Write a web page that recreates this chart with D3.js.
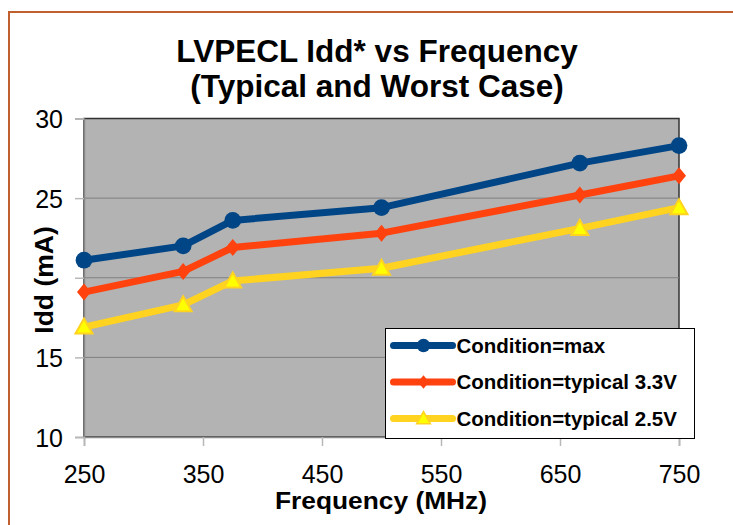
<!DOCTYPE html>
<html>
<head>
<meta charset="utf-8">
<script src="https://cdn.jsdelivr.net/npm/d3@7"></script>
<style>
    body { margin: 0; background: #fff; }
    text { font-family: "Liberation Sans", Arial, sans-serif; }
</style>
</head>
<body>
<div id="chart"></div>
<script>
const frequencies = [250, 333.33, 375, 500, 666.67, 750]
const iddMax = [21.1, 22.0, 23.6, 24.4, 27.2, 28.3]
const iddTyp33 = [19.1, 20.4, 21.9, 22.8, 25.2, 26.4]
const iddTyp25 = [16.9, 18.3, 19.8, 20.6, 23.1, 24.4]
const seriesNames = ['Condition=max', 'Condition=typical 3.3V', 'Condition=typical 2.5V']
const xTicks = [250, 350, 450, 550, 650, 750]
const yTicks = [10, 15, 20, 25, 30]

const WIDTH = 733
const HEIGHT = 525
const PLOT = { LEFT: 84, RIGHT: 679, TOP: 118.5, BOTTOM: 437 }

const series = [
    { name: seriesNames[0], values: iddMax, color: '#004586', marker: 'circle' },
    { name: seriesNames[1], values: iddTyp33, color: '#ff420e', marker: 'diamond' },
    { name: seriesNames[2], values: iddTyp25, color: '#ffd320', marker: 'triangle' },
]

const svg = d3.select('#chart').append('svg')
    .attr('width', WIDTH)
    .attr('height', HEIGHT)

svg.append('rect')
    .attr('width', WIDTH)
    .attr('height', HEIGHT)
    .attr('fill', '#fff')

// outer frame (cut off at right and bottom in the original)
svg.append('path')
    .attr('d', `M9,${HEIGHT + 5} V12 H${WIDTH + 5}`)
    .attr('fill', 'none')
    .attr('stroke', '#c0602e')
    .attr('stroke-width', 2)

const x = d3.scaleLinear().domain([250, 750]).range([PLOT.LEFT, PLOT.RIGHT])
const y = d3.scaleLinear().domain([10, 30]).range([PLOT.BOTTOM, PLOT.TOP])

// plot wall
svg.append('rect')
    .attr('x', PLOT.LEFT)
    .attr('y', PLOT.TOP)
    .attr('width', PLOT.RIGHT - PLOT.LEFT)
    .attr('height', PLOT.BOTTOM - PLOT.TOP)
    .attr('fill', '#b3b3b3')
    .attr('stroke', '#333')
    .attr('stroke-width', 1.5)

// horizontal grid
svg.append('g')
    .selectAll('line')
    .data(yTicks.slice(1, -1))
    .join('line')
    .attr('x1', PLOT.LEFT)
    .attr('x2', PLOT.RIGHT)
    .attr('y1', d => y(d))
    .attr('y2', d => y(d))
    .attr('stroke', '#7f7f7f')
    .attr('stroke-width', 1)

// axes
const yAxis = svg.append('g')
    .attr('transform', `translate(${PLOT.LEFT},0)`)
    .call(d3.axisLeft(y).tickValues(yTicks).tickSize(9).tickPadding(12))
yAxis.select('.domain').attr('stroke', '#8a8a8a').attr('stroke-width', 1.5)
yAxis.selectAll('.tick line').attr('stroke', '#b8b8b8').attr('stroke-width', 1.5)
yAxis.selectAll('.tick text')
    .attr('fill', '#000')
    .style('font-size', '25px')
    .attr('dy', '0.36em')

const xAxis = svg.append('g')
    .attr('transform', `translate(0,${PLOT.BOTTOM})`)
    .call(d3.axisBottom(x).tickValues(xTicks).tickSize(9).tickPadding(19))
xAxis.select('.domain').attr('stroke', '#8a8a8a').attr('stroke-width', 1.5)
xAxis.selectAll('.tick line').attr('stroke', '#b8b8b8').attr('stroke-width', 1.5)
xAxis.selectAll('.tick text')
    .attr('fill', '#000')
    .style('font-size', '25px')

// series lines
const line = d3.line()
    .x((d, i) => x(frequencies[i]))
    .y(d => y(d))

const symbolFor = (marker, size) => {
    if (marker === 'circle') return d3.symbol(d3.symbolCircle, size)()
    if (marker === 'diamond') return 'M0,-8.5 L7,0 L0,8.5 L-7,0 Z'
    return 'M0,-8.5 L8.5,6.5 L-8.5,6.5 Z'
}

series.forEach((s) => {
    svg.append('path')
        .datum(s.values)
        .attr('d', line)
        .attr('fill', 'none')
        .attr('stroke', s.color)
        .attr('stroke-width', 7)
        .attr('stroke-linejoin', 'round')
})

series.forEach((s) => {
    svg.append('g')
        .selectAll('path')
        .data(s.values)
        .join('path')
        .attr('transform', (d, i) => `translate(${x(frequencies[i])},${y(d)})`)
        .attr('d', symbolFor(s.marker, 220))
        .attr('fill', s.marker === 'triangle' ? '#ffff00' : s.color)
        .attr('stroke', s.color)
        .attr('stroke-width', s.marker === 'triangle' ? 2 : 0)
})

// titles
const title = svg.append('text')
    .attr('text-anchor', 'middle')
    .style('font-size', '31.5px')
    .style('font-weight', 'bold')
title.append('tspan').attr('x', 377).attr('y', 62).text('LVPECL Idd* vs Frequency')
title.append('tspan').attr('x', 377).attr('y', 97).text('(Typical and Worst Case)')

svg.append('text')
    .attr('x', 381)
    .attr('y', 509)
    .attr('text-anchor', 'middle')
    .attr('textLength', 212)
    .attr('lengthAdjust', 'spacingAndGlyphs')
    .style('font-size', '24px')
    .style('font-weight', 'bold')
    .text('Frequency (MHz)')

// y axis title box hides the 20 label
svg.append('rect')
    .attr('x', 28).attr('y', 221)
    .attr('width', 38).attr('height', 118)
    .attr('fill', '#fff')
svg.append('text')
    .attr('transform', 'translate(53,280) rotate(-90)')
    .attr('text-anchor', 'middle')
    .style('font-size', '26.5px')
    .style('font-weight', 'bold')
    .text('Idd (mA)')

// legend
const legend = svg.append('g').attr('transform', 'translate(385.5,328.5)')
legend.append('rect')
    .attr('width', 309)
    .attr('height', 110)
    .attr('fill', '#fff')
    .attr('stroke', '#000')
    .attr('stroke-width', 1)

const entry = legend.selectAll('g.entry')
    .data(series)
    .join('g')
    .attr('class', 'entry')
    .attr('transform', (d, i) => `translate(0,${17 + i * 36.5})`)

entry.append('line')
    .attr('x1', 8).attr('x2', 67)
    .attr('stroke', d => d.color)
    .attr('stroke-width', 7)
    .attr('stroke-linecap', 'round')
entry.append('path')
    .attr('transform', 'translate(38,0) scale(0.8)')
    .attr('d', d => symbolFor(d.marker, 220))
    .attr('fill', d => (d.marker === 'triangle' ? '#ffff00' : d.color))
    .attr('stroke', d => d.color)
    .attr('stroke-width', d => (d.marker === 'triangle' ? 2 : 0))
entry.append('text')
    .attr('x', 71)
    .attr('dy', '0.36em')
    .style('font-size', '20.5px')
    .style('font-weight', 'bold')
    .text(d => d.name)
</script>
</body>
</html>
